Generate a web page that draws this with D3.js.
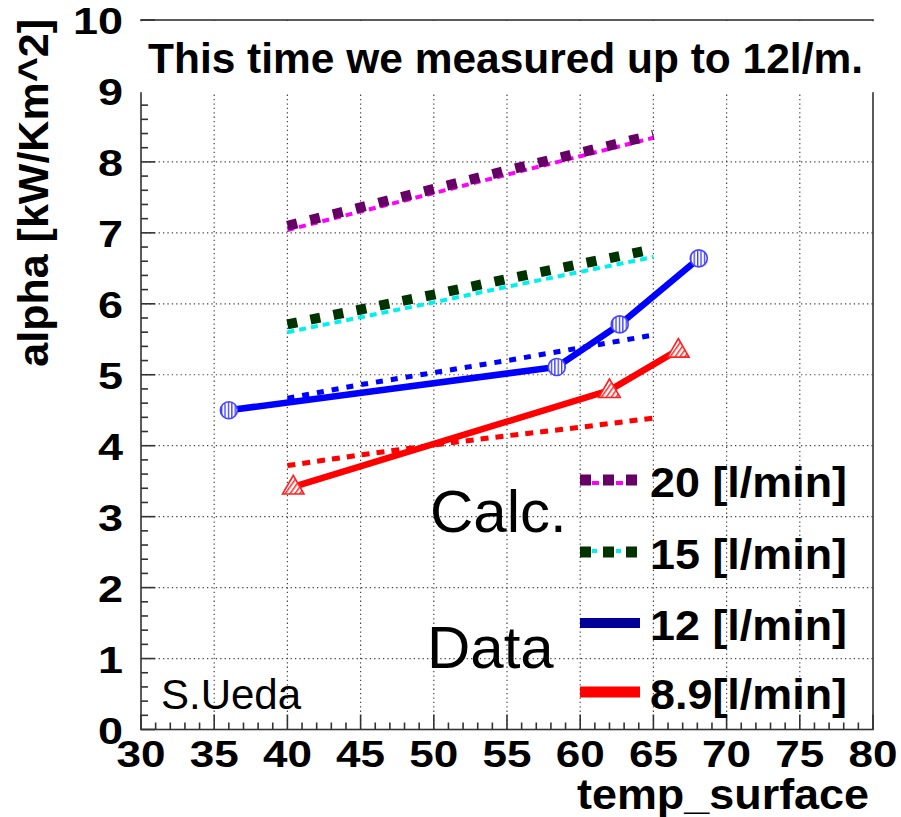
<!DOCTYPE html>
<html>
<head>
<meta charset="utf-8">
<script src="https://cdn.jsdelivr.net/npm/d3@7"></script>
<style>
  html, body { margin: 0; padding: 0; background: #fff; }
  svg { display: block; }
  text { font-family: "Liberation Sans", Arial, Helvetica, sans-serif; }
</style>
</head>
<body>
<svg id="chart" width="901" height="817"></svg>
<script>
// ---- values ----
const titleText = "This time we measured up to 12l/m.";
const xTitle = "temp_surface";
const yTitle = "alpha [kW/Km^2]";
const xTicks = [30, 35, 40, 45, 50, 55, 60, 65, 70, 75, 80];
const yTicks = [0, 1, 2, 3, 4, 5, 6, 7, 8, 9, 10];
const legendLabels = ["20 [l/min]", "15 [l/min]", "12 [l/min]", "8.9[l/min]"];

// calculated heat transfer coefficient vs surface temperature
const calcTemp  = [40, 45, 50, 55, 60, 65];
const calc20a   = [7.04, 7.30, 7.56, 7.82, 8.08, 8.34];
const calc20b   = [7.10, 7.36, 7.62, 7.88, 8.13, 8.38];
const calc15a   = [5.60, 5.81, 6.02, 6.24, 6.45, 6.66];
const calc15b   = [5.71, 5.92, 6.13, 6.35, 6.56, 6.77];
const calc12    = [4.67, 4.86, 5.03, 5.20, 5.38, 5.56];
const calc89    = [3.72, 3.87, 4.01, 4.14, 4.26, 4.39];

// measured points
const data12Temp  = [36.0, 58.4, 62.7, 68.1];
const data12Alpha = [4.50, 5.11, 5.71, 6.64];
const data89Temp  = [40.4, 62.0, 66.7];
const data89Alpha = [3.42, 4.78, 5.35];

// ---- drawing ----
const svg = d3.select("#chart");
const x = d3.scaleLinear().domain([30, 80]).range([141, 873]);
const y = d3.scaleLinear().domain([0, 10]).range([729.5, 20]);

const defs = svg.append("defs");
const vs = defs.append("pattern").attr("id", "vstripe").attr("patternUnits", "userSpaceOnUse")
  .attr("width", 3.4).attr("height", 4);
vs.append("rect").attr("width", 3.4).attr("height", 4).attr("fill", "#fff");
vs.append("rect").attr("width", 1.3).attr("height", 4).attr("fill", "#3b3bff");
const ds = defs.append("pattern").attr("id", "dstripe").attr("patternUnits", "userSpaceOnUse")
  .attr("width", 4).attr("height", 4).attr("patternTransform", "rotate(35)");
ds.append("rect").attr("width", 4).attr("height", 4).attr("fill", "#fff");
ds.append("rect").attr("width", 1.5).attr("height", 4).attr("fill", "#ff2a2a");

// grid
const grid = svg.append("g").attr("stroke", "#444").attr("stroke-width", 1.2)
  .attr("stroke-dasharray", "1.3,3.1");
grid.selectAll("line.gx").data(xTicks.slice(1, -1)).join("line")
  .attr("x1", d => x(d)).attr("x2", d => x(d)).attr("y1", y(0)).attr("y2", y(10));
grid.selectAll("line.gy").data(yTicks.slice(1, -1)).join("line")
  .attr("y1", d => y(d)).attr("y2", d => y(d)).attr("x1", x(30)).attr("x2", x(80));

// frame
svg.append("rect").attr("x", x(30)).attr("y", y(10)).attr("width", x(80) - x(30))
  .attr("height", y(0) - y(10)).attr("fill", "none").attr("stroke", "#333").attr("stroke-width", 1.6);

// axis tick marks
const ticks = svg.append("g").attr("stroke", "#333").attr("stroke-width", 1.6);
d3.range(0, 10.001, 0.2).forEach(v => {
  const major = Math.abs(v - Math.round(v)) < 1e-6;
  ticks.append("line").attr("x1", x(30)).attr("x2", x(30) + (major ? 14 : 7))
    .attr("y1", y(v)).attr("y2", y(v));
});
d3.range(30, 80.001, 1).forEach(v => {
  const major = v % 5 === 0;
  ticks.append("line").attr("y1", y(0)).attr("y2", y(0) - (major ? 15 : 7))
    .attr("x1", x(v)).attr("x2", x(v));
});

const line = d3.line().x(d => x(d[0])).y(d => y(d[1]));
const zip = (a, b) => a.map((v, i) => [v, b[i]]);

function path(pts, color, width, dash) {
  svg.append("path").datum(pts).attr("d", line).attr("fill", "none")
    .attr("stroke", color).attr("stroke-width", width)
    .attr("stroke-dasharray", dash || null);
}

// calculated curves
path(zip(calcTemp, calc20a), "#ff00ff", 4, "7,5");
path(zip(calcTemp, calc20b), "#660066", 10, "10,13.5");
path(zip(calcTemp, calc15a), "#00f0f0", 4, "7,5");
path(zip(calcTemp, calc15b), "#003300", 10, "10,13.5");
path(zip(calcTemp, calc12), "#0000ff", 5, "7,8");
path(zip(calcTemp, calc89), "#ff0000", 5, "8,7");

// measured curves
path(zip(data12Temp, data12Alpha), "#0000ff", 6.5);
path(zip(data89Temp, data89Alpha), "#ff0000", 6.5);

svg.append("g").selectAll("circle").data(zip(data12Temp, data12Alpha)).join("circle")
  .attr("cx", d => x(d[0])).attr("cy", d => y(d[1])).attr("r", 8.5)
  .attr("fill", "url(#vstripe)").attr("stroke", "#4444ff").attr("stroke-width", 1.6);

const tri = d3.symbol().type(d3.symbolTriangle).size(200);
svg.append("g").selectAll("path").data(zip(data89Temp, data89Alpha)).join("path")
  .attr("d", tri).attr("transform", d => `translate(${x(d[0])},${y(d[1]) + 1})`)
  .attr("fill", "url(#dstripe)").attr("stroke", "#ff2020").attr("stroke-width", 1.6);

// title box
svg.append("rect").attr("x", 134).attr("y", 21.2).attr("width", 748).attr("height", 71)
  .attr("fill", "#fff");
svg.append("text").attr("x", 148).attr("y", 73).attr("font-size", 42).attr("font-weight", "bold")
  .attr("textLength", 715).attr("lengthAdjust", "spacingAndGlyphs").text(titleText);

// tick labels
svg.append("g").selectAll("text").data(yTicks).join("text")
  .attr("x", 123).attr("y", d => y(d) + 14).attr("text-anchor", "end")
  .attr("font-size", 37).attr("font-weight", "bold")
  .attr("textLength", d => String(d).length * 25).attr("lengthAdjust", "spacingAndGlyphs")
  .text(d => d);
svg.append("g").selectAll("text").data(xTicks).join("text")
  .attr("x", d => x(d)).attr("y", 767).attr("text-anchor", "middle")
  .attr("font-size", 37).attr("font-weight", "bold")
  .attr("textLength", 49).attr("lengthAdjust", "spacingAndGlyphs")
  .text(d => d);

// axis titles
svg.append("text").attr("x", 869).attr("y", 809).attr("text-anchor", "end")
  .attr("font-size", 42).attr("font-weight", "bold")
  .attr("textLength", 292).attr("lengthAdjust", "spacingAndGlyphs").text(xTitle);
svg.append("text").attr("transform", "translate(48,19) rotate(-90)").attr("text-anchor", "end")
  .attr("font-size", 43).attr("font-weight", "bold").text(yTitle);

// legend
const legY = [480, 552, 623, 692];
const lg = svg.append("g");
function legSeg(yy, color, width, dash, dy) {
  lg.append("line").attr("x1", 580).attr("x2", 640).attr("y1", yy + (dy || 0)).attr("y2", yy + (dy || 0))
    .attr("stroke", color).attr("stroke-width", width).attr("stroke-dasharray", dash || null);
}
legSeg(legY[0], "#ff00ff", 4, "7,5", 3);
legSeg(legY[0], "#660066", 11, "11,12");
legSeg(legY[1], "#00f0f0", 4, "5,7", -1);
legSeg(legY[1], "#003300", 11, "11,12");
legSeg(legY[2], "#000099", 10);
legSeg(legY[3], "#ff0000", 11);
lg.selectAll("text").data(legendLabels).join("text")
  .attr("x", 650).attr("y", (d, i) => legY[i] + 17)
  .attr("font-size", 42).attr("font-weight", "bold")
  .attr("textLength", 197).attr("lengthAdjust", "spacingAndGlyphs").text(d => d);

// annotations
svg.append("text").attr("x", 430).attr("y", 532).attr("font-size", 60).text("Calc.");
svg.append("text").attr("x", 427).attr("y", 668).attr("font-size", 60).text("Data");
svg.append("text").attr("x", 161).attr("y", 709).attr("font-size", 42).text("S.Ueda");
</script>
</body>
</html>
